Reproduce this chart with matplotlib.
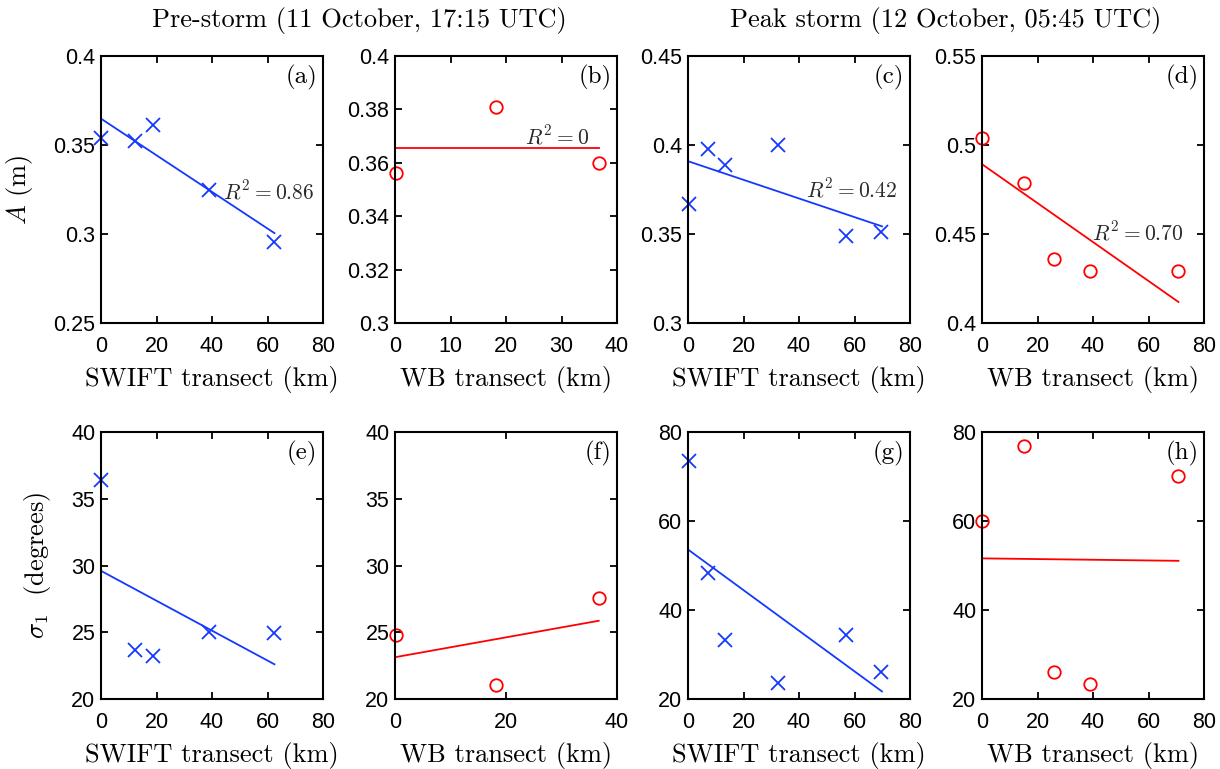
import matplotlib
matplotlib.use('Agg')
import matplotlib.pyplot as plt

plt.rcParams['mathtext.fontset'] = 'cm'
plt.rcParams['font.family'] = ['Liberation Sans', 'DejaVu Sans']
plt.rcParams['axes.linewidth'] = 1.5

BLUE = '#1438ff'
RED = '#ff0000'
SERIF = 'cmr10'

# x positions (km)
swift_pre_x = [0.0, 12.2, 18.8, 38.9, 62.2]
wb_pre_x = [0.15, 18.25, 36.7]
swift_peak_x = [0.2, 7.2, 13.3, 32.3, 56.9, 69.7]
wb_peak_x = [0.0, 15.3, 25.9, 38.8, 70.6]

# A (m)
A_swift_pre = [0.354, 0.352, 0.3615, 0.325, 0.2955]
A_wb_pre = [0.356, 0.381, 0.360]
A_swift_peak = [0.367, 0.398, 0.3885, 0.4, 0.349, 0.351]
A_wb_peak = [0.504, 0.4785, 0.436, 0.429, 0.4292]

# sigma_1 (degrees)
s_swift_pre = [36.4, 23.65, 23.25, 25.05, 24.95]
s_wb_pre = [24.8, 21.05, 27.55]
s_swift_peak = [73.5, 48.4, 33.2, 23.7, 34.4, 26.1]
s_wb_peak = [60.1, 76.9, 26.1, 23.4, 70.1]

# fitted lines, read at their end points
fit_a = ([0, 62.5], [0.3648, 0.3005])
fit_b = ([0, 36.7], [0.3656, 0.3656])
fit_c = ([0.2, 69.9], [0.3908, 0.3543])
fit_d = ([0.2, 70.8], [0.489, 0.4118])
fit_e = ([0, 62.5], [29.6, 22.6])
fit_f = ([0, 36.7], [23.13, 25.86])
fit_g = ([0.2, 69.9], [53.5, 21.7])
fit_h = ([0.2, 70.8], [51.6, 51.05])

r2_texts = {'a': ('$R^2 = 0.86$', 77.0, 0.3238),
            'b': ('$R^2 = 0$', 35.0, 0.3697),
            'c': ('$R^2 = 0.42$', 75.3, 0.3745),
            'd': ('$R^2 = 0.70$', 72.6, 0.4507)}

panels = [
    ('a', swift_pre_x, A_swift_pre, fit_a, 'x', BLUE, (0, 80), [0, 20, 40, 60, 80],
     (0.25, 0.4), [0.25, 0.3, 0.35, 0.4], 'SWIFT transect (km)'),
    ('b', wb_pre_x, A_wb_pre, fit_b, 'o', RED, (0, 40), [0, 10, 20, 30, 40],
     (0.3, 0.4), [0.3, 0.32, 0.34, 0.36, 0.38, 0.4], 'WB transect (km)'),
    ('c', swift_peak_x, A_swift_peak, fit_c, 'x', BLUE, (0, 80), [0, 20, 40, 60, 80],
     (0.3, 0.45), [0.3, 0.35, 0.4, 0.45], 'SWIFT transect (km)'),
    ('d', wb_peak_x, A_wb_peak, fit_d, 'o', RED, (0, 80), [0, 20, 40, 60, 80],
     (0.4, 0.55), [0.4, 0.45, 0.5, 0.55], 'WB transect (km)'),
    ('e', swift_pre_x, s_swift_pre, fit_e, 'x', BLUE, (0, 80), [0, 20, 40, 60, 80],
     (20, 40), [20, 25, 30, 35, 40], 'SWIFT transect (km)'),
    ('f', wb_pre_x, s_wb_pre, fit_f, 'o', RED, (0, 40), [0, 20, 40],
     (20, 40), [20, 25, 30, 35, 40], 'WB transect (km)'),
    ('g', swift_peak_x, s_swift_peak, fit_g, 'x', BLUE, (0, 80), [0, 20, 40, 60, 80],
     (20, 80), [20, 40, 60, 80], 'SWIFT transect (km)'),
    ('h', wb_peak_x, s_wb_peak, fit_h, 'o', RED, (0, 80), [0, 20, 40, 60, 80],
     (20, 80), [20, 40, 60, 80], 'WB transect (km)'),
]

W, H = 1220, 769
fig = plt.figure(figsize=(W / 100, H / 100), dpi=100)

lefts = [101, 395, 688, 982]
aw = 222
rows = [(56, 323), (432, 699)]

for i, (lab, x, y, fit, mk, col, xlim, xt, ylim, yt, xlabel) in enumerate(panels):
    r, c = divmod(i, 4)
    top, bot = rows[r]
    ax = fig.add_axes([lefts[c] / W, 1 - bot / H, aw / W, (bot - top) / H])
    ax.plot(fit[0], fit[1], color=col, lw=1.3)
    if mk == 'x':
        ax.plot(x, y, ls='none', marker='x', ms=10, mew=1.3, color=col, clip_on=False)
    else:
        ax.plot(x, y, ls='none', marker='o', ms=9, mew=1.3, mfc='none', mec=col, clip_on=False)
    ax.set_xlim(xlim)
    ax.set_ylim(ylim)
    ax.set_xticks(xt)
    ax.set_yticks(yt)
    ax.set_yticklabels([f'{v:g}' for v in yt])
    ax.tick_params(direction='in', top=True, right=True, length=5, width=1.3,
                   labelsize=15.5)
    ax.tick_params(axis='x', pad=9)
    ax.tick_params(axis='y', pad=4)
    ax.set_xlabel(xlabel, family=SERIF, fontsize=19, labelpad=7)
    ax.text(0.975, 0.92, f'({lab})', transform=ax.transAxes, ha='right', va='center',
            family=SERIF, fontsize=18)
    if lab in r2_texts:
        t, tx, ty = r2_texts[lab]
        ax.text(tx, ty, t, ha='right', va='center', fontsize=15.5, color='#2a2a2a')
    if lab == 'a':
        ax.set_ylabel('$A$ (m)', family=SERIF, fontsize=19, labelpad=13)
    if lab == 'e':
        ax.set_ylabel(r'$\sigma_1$  (degrees)', family=SERIF, fontsize=19, labelpad=13)

fig.text((101 + 617) / 2 / W, 1 - 20 / H, 'Pre-storm (11 October, 17:15 UTC)',
         ha='center', va='center', family=SERIF, fontsize=19)
fig.text((688 + 1204) / 2 / W, 1 - 20 / H, 'Peak storm (12 October, 05:45 UTC)',
         ha='center', va='center', family=SERIF, fontsize=19)

fig.savefig('out.png', dpi=100)
